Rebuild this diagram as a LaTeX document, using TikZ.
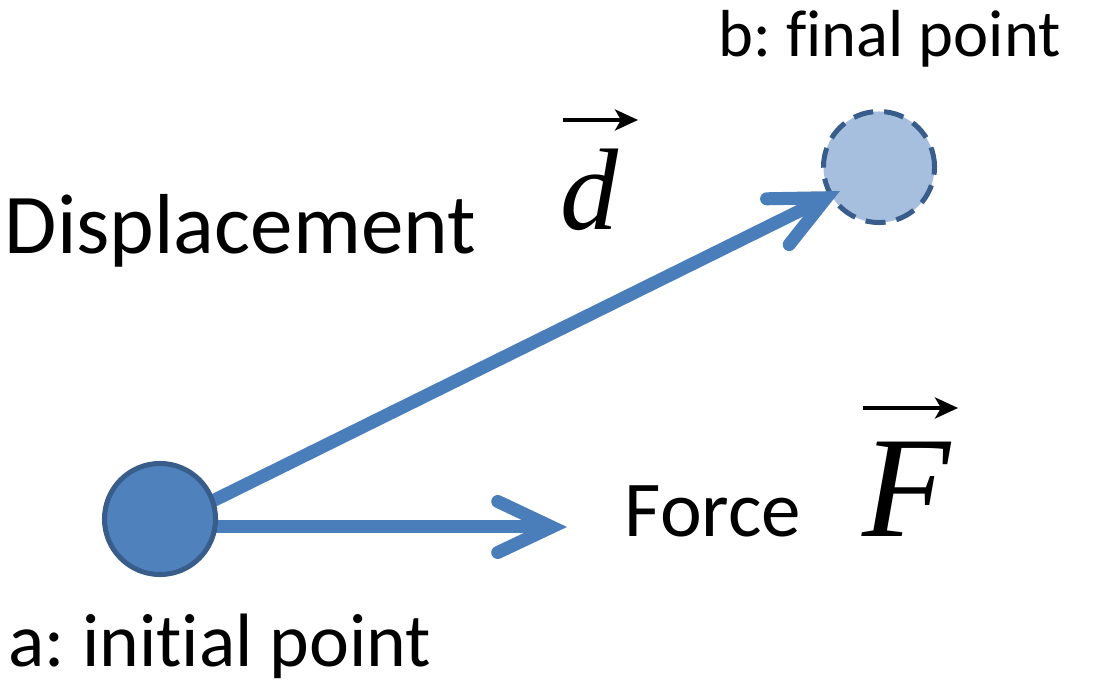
\documentclass[tikz,border=0pt]{standalone}
\usepackage{fontspec}
\setmainfont{Carlito}[Ligatures={TeX,NoCommon}]
\newfontfamily\symfont{Liberation Serif}
\usetikzlibrary{arrows.meta}
\frenchspacing
\definecolor{moveBlue}{RGB}{74,126,187}
\definecolor{pointBlue}{RGB}{79,129,189}
\definecolor{pointEdge}{RGB}{56,93,138}
\definecolor{pointLight}{RGB}{167,191,222}

\begin{document}
\begin{tikzpicture}[
  x=0.01cm,y=-0.01cm,
  point/.style={
    circle,
    draw=pointEdge,
    line width=0.05cm,
    minimum size=1.11cm,
    inner sep=0pt
  },
  move/.style={moveBlue,line width=0.13cm,
    -{Straight Barb[length=0.54cm,width=0.51cm,line cap=round,line join=miter]}},
  tag/.style={anchor=base west,inner sep=0pt},
  sym/.style={anchor=base west,inner sep=0pt},
  vecarrow/.style={line width=0.04cm,-{Stealth[length=0.23cm,width=0.21cm,inset=0.06cm]}}
]
  \useasboundingbox (0,0) rectangle (1103,683);

  % end point first, the displacement arrow lies on top of it
  \node[point,fill=pointLight,dash pattern=on 0.2cm off 0.11cm] (final) at (879,167) {};
  \coordinate (start) at (160,527);
  \coordinate (dtip) at (840,191);
  \coordinate (ftip) at (567,527);

  \draw[move] (start) -- (dtip);
  \draw[move] (start) -- (ftip);

  \node[point,fill=pointBlue] (initial) at (160,519) {};

  \node[tag,font=\fontsize{18.9pt}{22pt}\selectfont] (bname) at (718,57) {b: final point};
  \node[tag,font=\fontsize{21.5pt}{25pt}\selectfont] (aname) at (8,667) {a: initial point};
  \node[tag,font=\fontsize{24.2pt}{28pt}\selectfont] (disp) at (4,254) {Displacement};
  \node[tag,font=\fontsize{22.5pt}{26pt}\selectfont] (force) at (624,537) {Force};

  \node[sym,font=\fontsize{33pt}{37pt}\symfont\itshape] (dvec) at (560,230) {d};
  \node[sym,font=\fontsize{41pt}{45pt}\symfont\itshape] (fvec) at (862,537) {F};
  \draw[vecarrow] (dvec.base west) ++(3,-110) -- ++(75,0);
  \draw[vecarrow] (fvec.base west) ++(1,-129) -- ++(95,0);
\end{tikzpicture}
\end{document}
